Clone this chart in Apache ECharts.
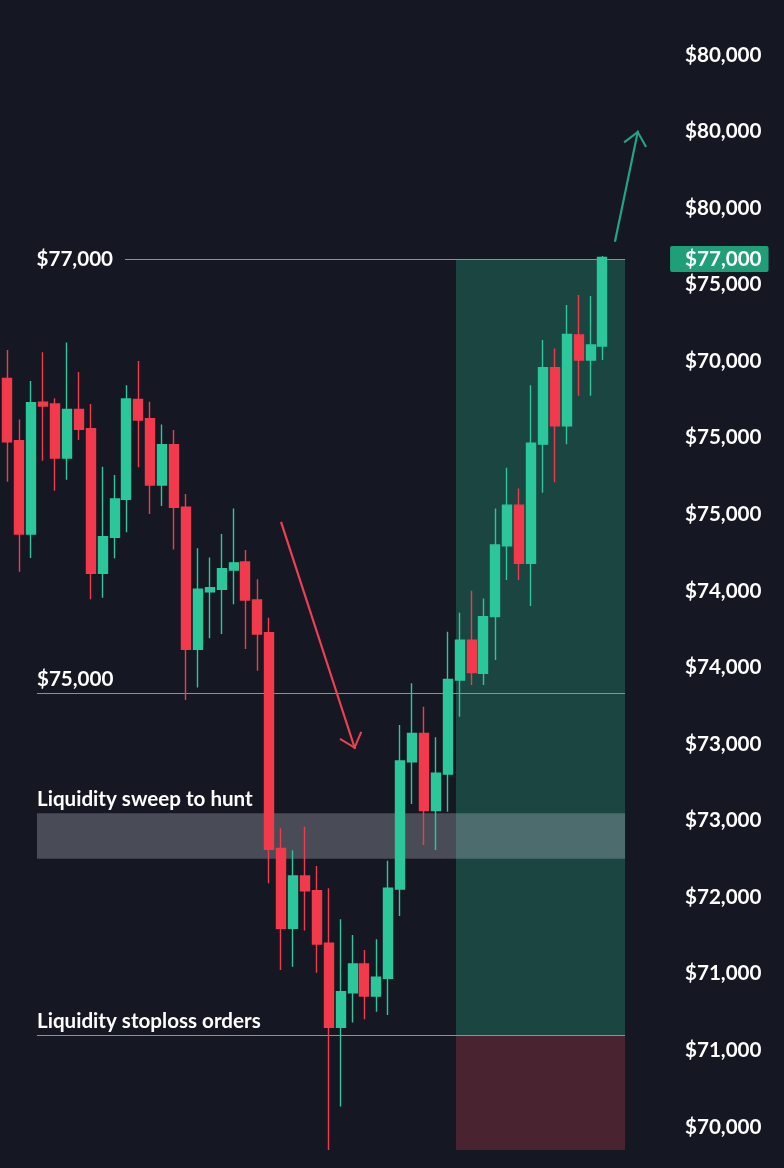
<!DOCTYPE html>
<html>
<head>
<meta charset="utf-8">
<script src="https://cdn.jsdelivr.net/npm/echarts@6/dist/echarts.min.js"></script>
<style>
html,body{margin:0;padding:0;background:#151822;}
#c{width:784px;height:1168px;}
</style>
</head>
<body>
<div id="c"></div>
<script>
// ---- data (prices) ----
const categories = ['C01','C02','C03','C04','C05','C06','C07','C08','C09','C10','C11','C12','C13','C14','C15','C16','C17','C18','C19','C20','C21','C22','C23','C24','C25','C26','C27','C28','C29','C30','C31','C32','C33','C34','C35','C36','C37','C38','C39','C40','C41','C42','C43','C44','C45','C46','C47','C48','C49','C50','C51','C52','C53','C54','C55'];
const opens  = [76450,76163,75733,76340,76332,76083,76307,76218,75552,75718,75893,76353,76264,75959,76144,75857,75201,75467,75478,75567,75604,75429,75278,74284,73916,74157,74089,73847,73459,73619,73751,73604,73685,74097,74683,74814,74458,74627,75060,75244,75091,75352,75679,75866,75598,76147,76499,76232,76650,76535,76599];
const closes = [76158,75733,76338,76323,76083,76307,76215,75552,75720,75894,76355,76258,75959,76144,75856,75201,75478,75485,75573,75600,75429,75272,74280,73916,74157,74089,73843,73459,73624,73751,73604,73690,74100,74687,74814,74458,74630,75063,75244,75094,75352,75682,75866,75598,76151,76499,76232,76653,76535,76604,77008];
const lows   = [75974,75559,75622,76071,75932,75983,76166,75432,75439,75621,75741,76040,75825,75862,75662,74968,75026,75252,75272,75409,75203,75103,74123,73723,73739,73905,73711,72894,73094,73481,73496,73531,73516,73972,74489,74300,74277,74453,74891,75037,75037,75152,75521,75521,75401,75923,75971,76146,76370,76370,76535];
const highs  = [76581,76261,76438,76570,76358,76616,76479,76332,76043,76005,76419,76530,76342,76238,76212,75917,75667,75625,75733,75851,75659,75524,75347,74377,74276,74384,74203,74100,73957,73885,73816,73865,74227,74853,75045,74937,74796,75282,75370,75471,75436,75851,76038,75943,76419,76627,76588,76788,76834,76830,77014];
// right-hand tick labels, top to bottom (as printed)
const tickLabels = ['$80,000','$80,000','$80,000','$75,000','$70,000','$75,000','$75,000','$74,000','$74,000','$73,000','$73,000','$72,000','$71,000','$71,000','$70,000'];
// annotation levels (price) and spans (candle index units)
const levelHigh = 77000, levelMid = 75000, stopLevel = 73424;
const sweepTop = 74446, sweepBottom = 74236, zoneBottom = 72894;
const lineStartX = 2.48, topLineStartX = 9.88, zoneStartX = 37.69, areaEndX = 51.9;
const redArrow = [[22.99, 75789], [29.21, 74742]];
const greenArrow = [[51.05, 77080], [52.99, 77592]];

// ---- build ----
const candleData = opens.map((o, i) => [o, closes[i], lows[i], highs[i]]);
const GREEN = '#2bc79b', RED = '#f23a4c';
const FONT = 'Lato, "Noto Sans", sans-serif';
const txt = {color:'#ffffff', fontSize:20.6, fontFamily:FONT, fontWeight:700};
const chevron = 'path://M12,15 L24,28.6 L22.4,30 L12,17.9 L1.6,30 L0,28.6 Z M11.95,0 L12.05,0 L12,0.05 Z';
const nTicks = tickLabels.length - 1;

const chart = echarts.init(document.getElementById('c'), null, {renderer:'canvas', width:784, height:1168});
chart.setOption({
  backgroundColor:'#151822',
  animation:false,
  grid:[
    {left:1.5, right:128, top:0, bottom:0, containLabel:false, outerBoundsMode:'none'},
    {left:1.5, right:128, top:55, bottom:41, containLabel:false, outerBoundsMode:'none'}
  ],
  xAxis:[
    {type:'category', gridIndex:0, data:categories, boundaryGap:true, show:false},
    {type:'value', gridIndex:0, min:-0.5, max:categories.length - 0.5, show:false},
    {type:'value', gridIndex:1, min:0, max:1, show:false}
  ],
  yAxis:[
    {type:'value', gridIndex:0, min:72811, max:78194, show:false},
    {type:'value', gridIndex:1, position:'right', min:0, max:nTicks, interval:1,
     axisLine:{show:false}, axisTick:{show:false}, splitLine:{show:false},
     axisLabel:Object.assign({show:true, margin:29, align:'left',
       formatter:function(v){const k=Math.round(v); return tickLabels[nTicks-k] || '';}}, txt)}
  ],
  series:[
    {type:'candlestick', xAxisIndex:0, yAxisIndex:0, data:candleData, barWidth:9.5, z:3, clip:false,
     itemStyle:{color:GREEN, color0:RED, borderColor:GREEN, borderColor0:RED, borderWidth:1.4}},
    {type:'scatter', xAxisIndex:2, yAxisIndex:1, data:[], silent:true},
    {type:'line', xAxisIndex:1, yAxisIndex:0, data:[], silent:true, z:1,
     markArea:{silent:true, z:1, data:[
       [{coord:[zoneStartX, levelHigh], itemStyle:{color:'#1b4541'}}, {coord:[areaEndX, stopLevel]}],
       [{coord:[zoneStartX, stopLevel], itemStyle:{color:'#4a2330'}}, {coord:[areaEndX, zoneBottom]}],
       [{coord:[lineStartX, sweepTop], itemStyle:{color:'rgba(210,212,225,0.28)'}}, {coord:[areaEndX, sweepBottom]}]
     ]},
     markLine:{silent:true, z:1.5, symbol:['none','none'], animation:false,
       lineStyle:{color:'#8d9099', width:1.2, type:'solid'},
       label:Object.assign({show:true}, txt),
       emphasis:{disabled:true},
       data:[
         [{coord:[topLineStartX, levelHigh], label:Object.assign({position:'start', distance:12, formatter:'$77,000'}, txt)}, {coord:[areaEndX, levelHigh]}],
         [{coord:[topLineStartX, levelHigh], label:Object.assign({position:'end', distance:45, formatter:'$77,000', backgroundColor:'#1f9f78', padding:[3,7,2,15], borderRadius:2}, txt)}, {coord:[areaEndX, levelHigh]}],
         [{coord:[lineStartX, levelMid], label:Object.assign({position:'insideStartTop', distance:[0,3], formatter:'$75,000'}, txt)}, {coord:[areaEndX, levelMid]}],
         [{coord:[lineStartX, sweepTop], lineStyle:{color:'rgba(0,0,0,0)'}, label:Object.assign({position:'insideStartTop', distance:[0,3], formatter:'Liquidity sweep to hunt'}, txt)}, {coord:[areaEndX, sweepTop]}],
         [{coord:[lineStartX, stopLevel], label:Object.assign({position:'insideStartTop', distance:[0,3], formatter:'Liquidity stoploss orders'}, txt)}, {coord:[areaEndX, stopLevel]}],
         [{coord:redArrow[0], symbol:'none', lineStyle:{color:'#ec4152', width:2.2, type:'solid'}, label:{show:false}}, {coord:redArrow[1], symbol:chevron, symbolSize:[24,30]}],
         [{coord:greenArrow[0], symbol:'none', lineStyle:{color:'#23a585', width:2.2, type:'solid'}, label:{show:false}}, {coord:greenArrow[1], symbol:chevron, symbolSize:[24,30]}]
       ]}
    }
  ]
});
</script>
</body>
</html>
